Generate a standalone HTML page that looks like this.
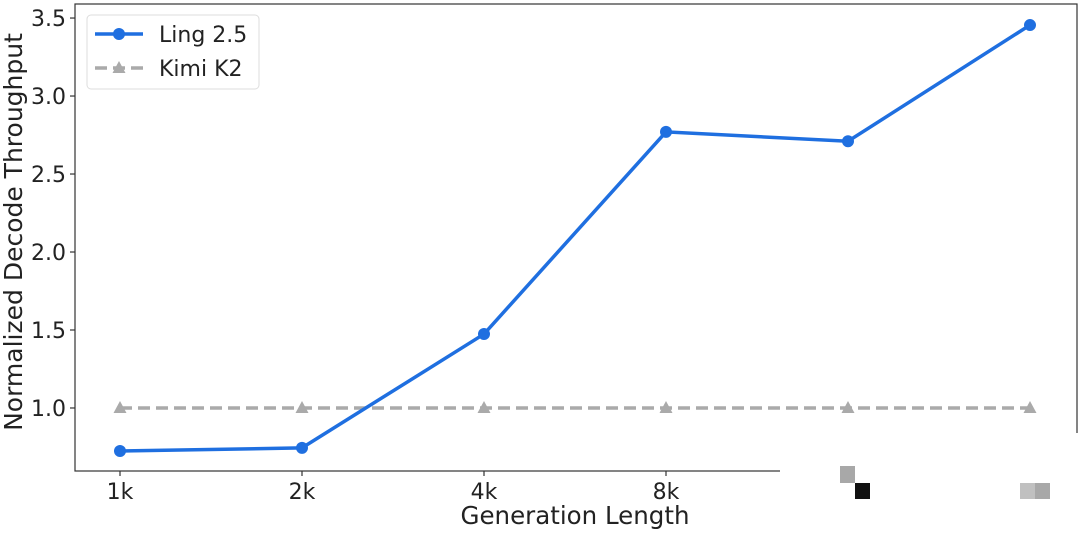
<!DOCTYPE html>
<html><head><meta charset="utf-8"><style>
html,body{margin:0;padding:0;background:#fff;}
svg{display:block;font-family:"DejaVu Sans","Liberation Sans",sans-serif;}
</style></head><body>
<svg id="chart" width="1080" height="533"></svg>
<script>
const categories = ["1k","2k","4k","8k","16k","32k"];
const lingValues = [0.724, 0.744, 1.474, 2.77, 2.71, 3.455];
const kimiValues = [1, 1, 1, 1, 1, 1];
const yTicks = [1.0, 1.5, 2.0, 2.5, 3.0, 3.5];
const yTickLabels = ["1.0","1.5","2.0","2.5","3.0","3.5"];

const NS = "http://www.w3.org/2000/svg";
const svg = document.getElementById('chart');
const L = 75, R = 1077, T = 4, B = 471;
const yMin = 0.596, yMax = 3.59;
function y(v){ return B - (v - yMin) / (yMax - yMin) * (B - T); }
function x(i){ return 120 + i * 182; }
function mk(tag, attrs, parent){ const e = document.createElementNS(NS, tag); for (const k in attrs) e.setAttribute(k, attrs[k]); (parent||svg).appendChild(e); return e; }

const frame = mk('rect', {x:L, y:T, width:R-L, height:B-T, fill:'none', stroke:'#333', 'stroke-width':1.2});



yTicks.forEach((v, i) => {
  const t = mk('line', {x1:L-5, x2:L, y1:y(v), y2:y(v), stroke:'#333', 'stroke-width':1.2});
  
  
  const tx = mk('text', {x:L-9, y:y(v)+8, 'text-anchor':'end', 'font-size':22, fill:'#222'});
  tx.textContent = yTickLabels[i];
  
  
});
categories.forEach((c, i) => {
  const t = mk('line', {x1:x(i), x2:x(i), y1:B, y2:B+5, stroke:'#333', 'stroke-width':1.2});
  
  
  const tx = mk('text', {x:x(i), y:B+28, 'text-anchor':'middle', 'font-size':22, fill:'#222'});
  tx.textContent = c;
  
  
});

const yl = mk('text', {x:0, y:0, transform:'translate(22,232) rotate(-90)', 'text-anchor':'middle', 'font-size':25, fill:'#222'});
yl.textContent = 'Normalized Decode Throughput';


const xl = mk('text', {x:575, y:524, 'text-anchor':'middle', 'font-size':24.5, fill:'#222'});
xl.textContent = 'Generation Length';



const kl = mk('polyline', {points:kimiValues.map((v,i)=>x(i)+','+y(v)).join(' '), fill:'none', stroke:'#aaaaaa', 'stroke-width':3.5, 'stroke-dasharray':'12,6'});


kimiValues.forEach((v,i) => {
  const p = mk('polygon', {points:`${x(i)},${y(v)-7} ${x(i)-6.5},${y(v)+5} ${x(i)+6.5},${y(v)+5}`, fill:'#aaaaaa'});
  
  
});
const ll = mk('polyline', {points:lingValues.map((v,i)=>x(i)+','+y(v)).join(' '), fill:'none', stroke:'#1f6fe0', 'stroke-width':3.5});


lingValues.forEach((v,i) => {
  const c = mk('circle', {cx:x(i), cy:y(v), r:6, fill:'#1f6fe0'});
  
  
});

// legend
const lg = mk('g', {});


mk('rect', {x:87, y:15, width:172, height:74, rx:4, fill:'#fff', stroke:'#ddd', 'stroke-width':1}, lg);
mk('line', {x1:95, x2:143, y1:34, y2:34, stroke:'#1f6fe0', 'stroke-width':3.5}, lg);
mk('circle', {cx:119, cy:34, r:6, fill:'#1f6fe0'}, lg);
const t1 = mk('text', {x:159, y:42, 'font-size':22, fill:'#222'}, lg); t1.textContent = 'Ling 2.5';


mk('line', {x1:95, x2:143, y1:68, y2:68, stroke:'#aaaaaa', 'stroke-width':3.5, 'stroke-dasharray':'12,6'}, lg);
mk('polygon', {points:'119,61 112.5,73 125.5,73', fill:'#aaaaaa'}, lg);
const t2 = mk('text', {x:159, y:76, 'font-size':22, fill:'#222'}, lg); t2.textContent = 'Kimi K2';



// white overlay bottom-right
const wb = mk('rect', {x:780, y:433, width:300, height:100, fill:'#fff'});


mk('rect', {x:840, y:466, width:15, height:17, fill:'#a8a8a8'});
mk('rect', {x:855, y:483, width:15, height:16, fill:'#111'});
mk('rect', {x:1020, y:483, width:15, height:16, fill:'#c0c0c0'});
mk('rect', {x:1035, y:483, width:15, height:16, fill:'#a8a8a8'});
</script>
</body></html>
